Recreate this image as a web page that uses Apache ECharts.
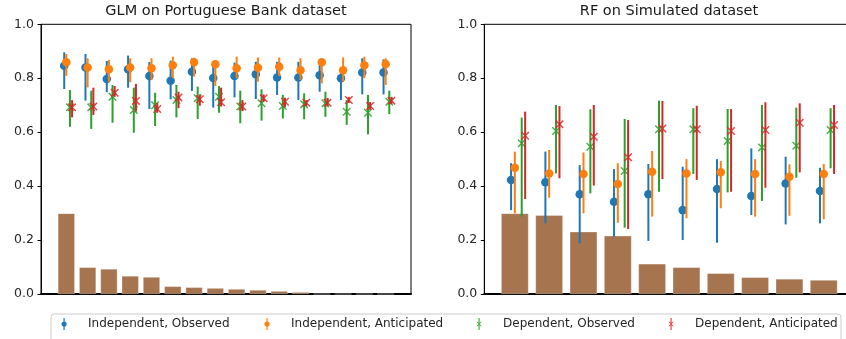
<!DOCTYPE html>
<html>
<head>
<meta charset="utf-8">
<script src="https://cdn.jsdelivr.net/npm/echarts@6/dist/echarts.min.js"></script>
<style>
  html, body { margin: 0; padding: 0; background: #fff; }
  #chart { width: 846px; height: 339px; }
</style>
</head>
<body>
<div id="chart"></div>
<script>
// --- Data: [value, low, high] per group ---
const seriesNames = ['Independent, Observed', 'Independent, Anticipated', 'Dependent, Observed', 'Dependent, Anticipated'];
const seriesColors = ['#1f77b4', '#ff7f0e', '#2ca02c', '#d62728'];

// GLM on Portuguese Bank dataset (16 groups)
const glmBars = [0.299, 0.099, 0.093, 0.067, 0.063, 0.0285, 0.025, 0.022, 0.0185, 0.015, 0.011, 0.007, 0, 0, 0, 0];
const glmIndObs = [
  [0.846, 0.760, 0.896], [0.840, 0.717, 0.890], [0.797, 0.748, 0.864], [0.833, 0.765, 0.884],
  [0.808, 0.686, 0.860], [0.791, 0.722, 0.865], [0.824, 0.753, 0.874], [0.801, 0.691, 0.855],
  [0.808, 0.729, 0.858], [0.815, 0.723, 0.861], [0.803, 0.738, 0.861], [0.803, 0.719, 0.861],
  [0.811, 0.750, 0.855], [0.800, 0.719, 0.837], [0.821, 0.740, 0.874], [0.821, 0.740, 0.870]
];
const glmIndAnt = [
  [0.859, 0.809, 0.890], [0.840, 0.766, 0.874], [0.833, 0.787, 0.868], [0.840, 0.785, 0.874],
  [0.837, 0.793, 0.874], [0.848, 0.800, 0.880], [0.859, 0.806, 0.876], [0.852, 0.771, 0.868],
  [0.837, 0.800, 0.880], [0.839, 0.787, 0.877], [0.843, 0.808, 0.877], [0.830, 0.793, 0.874],
  [0.859, 0.781, 0.874], [0.830, 0.787, 0.877], [0.848, 0.800, 0.880], [0.853, 0.775, 0.874]
];
const glmDepObs = [
  [0.692, 0.620, 0.756], [0.692, 0.612, 0.754], [0.731, 0.635, 0.775], [0.682, 0.598, 0.765],
  [0.700, 0.623, 0.746], [0.719, 0.655, 0.775], [0.726, 0.649, 0.769], [0.731, 0.672, 0.771],
  [0.695, 0.633, 0.754], [0.707, 0.643, 0.759], [0.697, 0.651, 0.738], [0.704, 0.648, 0.744],
  [0.707, 0.657, 0.750], [0.676, 0.627, 0.719], [0.672, 0.592, 0.738], [0.713, 0.667, 0.754]
];
const glmDepAnt = [
  [0.692, 0.655, 0.719], [0.695, 0.664, 0.765], [0.746, 0.731, 0.771], [0.716, 0.676, 0.779],
  [0.686, 0.672, 0.708], [0.729, 0.689, 0.750], [0.722, 0.698, 0.740], [0.711, 0.695, 0.765],
  [0.695, 0.678, 0.719], [0.726, 0.713, 0.740], [0.713, 0.692, 0.728], [0.709, 0.697, 0.719],
  [0.709, 0.695, 0.727], [0.719, 0.708, 0.731], [0.697, 0.683, 0.712], [0.717, 0.704, 0.731]
];

// RF on Simulated dataset (10 groups)
const rfBars = [0.299, 0.292, 0.231, 0.216, 0.112, 0.099, 0.077, 0.062, 0.056, 0.052];
const rfIndObs = [
  [0.423, 0.311, 0.485], [0.414, 0.262, 0.528], [0.370, 0.188, 0.478], [0.342, 0.212, 0.463],
  [0.370, 0.197, 0.482], [0.311, 0.200, 0.472], [0.389, 0.190, 0.500], [0.363, 0.293, 0.540],
  [0.410, 0.258, 0.509], [0.382, 0.262, 0.468]
];
const rfIndAnt = [
  [0.468, 0.299, 0.528], [0.447, 0.357, 0.534], [0.445, 0.299, 0.525], [0.408, 0.264, 0.485],
  [0.453, 0.287, 0.530], [0.447, 0.281, 0.500], [0.451, 0.318, 0.493], [0.445, 0.287, 0.500],
  [0.435, 0.290, 0.481], [0.445, 0.277, 0.482]
];
const rfDepObs = [
  [0.559, 0.287, 0.654], [0.604, 0.447, 0.701], [0.546, 0.373, 0.685], [0.456, 0.246, 0.649],
  [0.611, 0.379, 0.717], [0.611, 0.445, 0.689], [0.567, 0.377, 0.686], [0.543, 0.345, 0.701],
  [0.550, 0.431, 0.691], [0.608, 0.466, 0.689]
];
const rfDepAnt = [
  [0.587, 0.352, 0.676], [0.629, 0.429, 0.697], [0.583, 0.402, 0.701], [0.507, 0.241, 0.645],
  [0.614, 0.426, 0.716], [0.611, 0.423, 0.698], [0.604, 0.379, 0.686], [0.608, 0.394, 0.711],
  [0.635, 0.451, 0.707], [0.627, 0.445, 0.701]
];

const yTicks = [0, 0.2, 0.4, 0.6, 0.8, 1.0];

// --- Shared styles ---
const FONT = 'DejaVu Sans';
const X_MARK = 'path://M0,1.2 L1.2,0 L10,8.8 L8.8,10 Z M8.8,0 L10,1.2 L1.2,10 L0,8.8 Z';
const ICON_DOT = 'path://M3.3,0 L4.7,0 L4.7,14 L3.3,14 Z M1,7 A3,3 0 1,1 7,7 A3,3 0 1,1 1,7 Z';
const ICON_X = 'path://M3.3,0 L4.7,0 L4.7,14 L3.3,14 Z M1,4.8 L1.8,4 L7,9.2 L6.2,10 Z M6.2,4 L7,4.8 L1.8,10 L1,9.2 Z';
// marker centre x of each legend entry
const legendX = [65, 268, 480, 672];

const chart = echarts.init(document.getElementById('chart'), null, { renderer: 'canvas' });

const makeGrid = (left) => ({
  left: left, top: 24.3, width: 370, height: 269.7,
  show: true, borderColor: '#000', borderWidth: 1,
  containLabel: false, outerBoundsMode: 'none'
});

const makeXAxis = (gridIndex, min, max) => ({
  type: 'value', gridIndex, min, max,
  axisLine: { show: true, onZero: false, lineStyle: { color: '#000', width: 2 } },
  axisTick: { show: false },
  axisLabel: { show: false },
  splitLine: { show: false }
});

const makeYAxis = (gridIndex) => ({
  type: 'value', gridIndex, min: 0, max: 1, interval: 0.2,
  axisLine: { show: true, onZero: false, lineStyle: { color: '#000', width: 1 } },
  axisTick: { show: true, length: 3.5, lineStyle: { color: '#000', width: 1 } },
  axisLabel: {
    color: '#262626', fontSize: 12.5, fontFamily: FONT, margin: 7,
    formatter: v => yTicks.some(t => Math.abs(t - v) < 1e-9) ? v.toFixed(1) : ''
  },
  splitLine: { show: false }
});

// build bars + error bars + markers for one panel
const buildPanel = (idx, bars, groups, offsets, barWidth) => {
  const out = [{
    type: 'bar', xAxisIndex: idx, yAxisIndex: idx, z: 1,
    barWidth: barWidth,
    data: bars.map((v, i) => [i, v]),
    itemStyle: { color: '#a6744f', borderColor: 'rgba(255,255,255,0.5)', borderWidth: 0.6 },
    silent: true
  }];
  groups.forEach((g, k) => {
    const color = seriesColors[k];
    out.push({
      type: 'custom', xAxisIndex: idx, yAxisIndex: idx, z: 2 + 2 * k,
      data: g.map((d, i) => [i + offsets[k], d[1], d[2]]),
      encode: { x: 0, y: [1, 2] },
      renderItem: (params, api) => {
        const p1 = api.coord([api.value(0), api.value(1)]);
        const p2 = api.coord([api.value(0), api.value(2)]);
        return {
          type: 'line',
          shape: { x1: p1[0], y1: p1[1], x2: p2[0], y2: p2[1] },
          style: { stroke: color, lineWidth: 2 }
        };
      },
      silent: true
    });
    const isX = k >= 2;
    out.push({
      name: seriesNames[k],
      type: 'scatter', xAxisIndex: idx, yAxisIndex: idx, z: 3 + 2 * k,
      symbol: isX ? X_MARK : 'circle',
      symbolSize: 8.5,
      itemStyle: { color: color, opacity: isX ? 0.85 : 1 },
      data: g.map((d, i) => [i + offsets[k], d[0]]),
      silent: true
    });
  });
  return out;
};

// one legend block per entry so each sits where the reference has it
const legends = seriesNames.map((name, k) => ({
  left: legendX[k] - 3.5, top: 318, padding: 0,
  itemWidth: 7, itemHeight: 12,
  selectedMode: false,
  formatter: n => '{t|' + n + '}',
  textStyle: {
    fontSize: 12, color: '#262626', fontFamily: FONT,
    rich: { t: { fontSize: 12, color: '#262626', fontFamily: FONT, padding: [0, 0, 0, 15.5] } }
  },
  data: [{ name, icon: k < 2 ? ICON_DOT : ICON_X }]
}));

const option = {
  animation: false,
  backgroundColor: '#fff',
  textStyle: { fontFamily: FONT },
  title: [
    { text: 'GLM on Portuguese Bank dataset', left: 226, top: 4, textAlign: 'center', padding: 0,
      textStyle: { fontSize: 14.5, fontWeight: 'normal', color: '#1a1a1a', fontFamily: FONT } },
    { text: 'RF on Simulated dataset', left: 669, top: 4, textAlign: 'center', padding: 0,
      textStyle: { fontSize: 14.5, fontWeight: 'normal', color: '#1a1a1a', fontFamily: FONT } }
  ],
  grid: [makeGrid(41), makeGrid(484.3)],
  xAxis: [makeXAxis(0, -1.19, 16.19), makeXAxis(1, -0.89, 9.89)],
  yAxis: [makeYAxis(0), makeYAxis(1)],
  legend: legends,
  graphic: [{
    type: 'rect', left: 50.5, top: 313.5, z: -1,
    shape: { width: 790, height: 40, r: 3 },
    style: { fill: '#fff', stroke: '#cccccc', lineWidth: 1 }
  }],
  series: [
    ...buildPanel(0, glmBars, [glmIndObs, glmIndAnt, glmDepObs, glmDepAnt], [-0.1, 0, 0.17, 0.27], 17),
    ...buildPanel(1, rfBars, [rfIndObs, rfIndAnt, rfDepObs, rfDepAnt], [-0.11, 0, 0.2, 0.3], 27.5)
  ]
};

chart.setOption(option);
</script>
</body>
</html>
